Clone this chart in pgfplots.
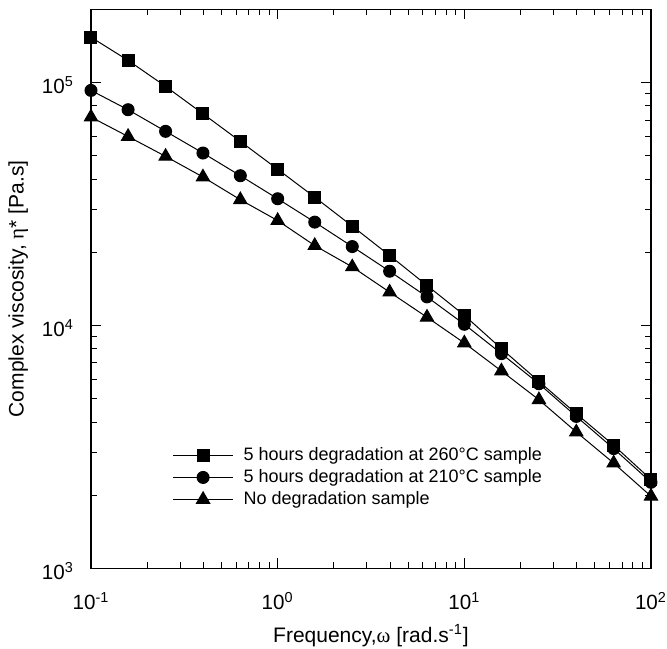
\documentclass[border=0pt]{standalone}
\usepackage{fontspec}
\setmainfont{Liberation Sans}
\newfontfamily\serif{Liberation Serif}
\usepackage{pgfplots}
\pgfplotsset{compat=1.18}
\usetikzlibrary{calc}

\pgfplotstableread{
x y
0.1 1.535e5
0.158 1.232e5
0.251 9.63e4
0.398 7.43e4
0.631 5.72e4
1 4.39e4
1.58 3.37e4
2.51 2.56e4
3.98 1.94e4
6.31 1.46e4
10 1.10e4
15.8 8.02e3
25.1 5.88e3
39.8 4.33e3
63.1 3.21e3
100 2.32e3
}\sqdata
\pgfplotstableread{
x y
0.1 9.27e4
0.158 7.72e4
0.251 6.29e4
0.398 5.12e4
0.631 4.13e4
1 3.32e4
1.58 2.66e4
2.51 2.11e4
3.98 1.67e4
6.31 1.31e4
10 1.01e4
15.8 7.65e3
25.1 5.75e3
39.8 4.22e3
63.1 3.11e3
100 2.26e3
}\cidata
\pgfplotstableread{
x y
0.1 7.2e4
0.158 5.99e4
0.251 4.96e4
0.398 4.08e4
0.631 3.29e4
1 2.70e4
1.58 2.13e4
2.51 1.74e4
3.98 1.37e4
6.31 1.08e4
10 8.46e3
15.8 6.49e3
25.1 4.94e3
39.8 3.64e3
63.1 2.71e3
100 1.98e3
}\trdata

\begin{document}
\begin{tikzpicture}
\begin{axis}[
  scale only axis, width=280pt, height=279.5pt,
  xmode=log, ymode=log,
  xmin=0.1, xmax=100, ymin=1000, ymax=2e5,
  xtick={0.1,1,10,100},
  xticklabels={10\textsuperscript{-1},10\textsuperscript{0},10\textsuperscript{1},10\textsuperscript{2}},
  ytick={1000,10000,100000},
  yticklabels={10\textsuperscript{3},10\textsuperscript{4},10\textsuperscript{5}},
  tick align=inside,
  major tick length=5pt, minor tick length=3pt,
  axis line style={line width=0.7pt},
  every tick/.append style={black, line width=0.5pt},
  tick label style={font=\fontsize{10.3}{12}\selectfont},
  xticklabel style={yshift=-8.5pt},
  yticklabel style={xshift=-5pt, yshift=-1.5pt},
  label style={font=\fontsize{10.5}{12}\selectfont},
  xlabel={Frequency,{\serif ω} [rad.s\textsuperscript{-1}]},
  ylabel={Complex viscosity, {\serif η}* [Pa.s]},
  x label style={at={(axis description cs:0.5,-0.12)}, anchor=center},
  y label style={at={(axis description cs:-0.13,0.5)}, anchor=center, rotate=0},
  legend style={draw=none, fill=none, font=\fontsize{9}{11}\selectfont,
    at={(axis description cs:0.145,0.1625)}, anchor=west, inner sep=0pt,
    nodes={inner sep=0pt, text height=7pt, text depth=2pt},
    row sep=2pt, column sep=5pt},
  legend cell align=left,
  legend image code/.code={\draw[mark repeat=2,mark phase=2] plot coordinates {(0pt,0pt) (15pt,0pt) (30pt,0pt)};},
]
\addplot[black, line width=0.5pt, mark=square*, mark size=3pt, mark options={solid, fill=black}] table {\sqdata};
\addlegendentry{5 hours degradation at 260°C sample}
\addplot[black, line width=0.5pt, mark=*, mark size=3pt, mark options={solid, fill=black}] table {\cidata};
\addlegendentry{5 hours degradation at 210°C sample}
\addplot[black, line width=0.5pt, mark=triangle*, mark size=3.8pt, mark options={solid, fill=black}] table {\trdata};
\addlegendentry{No degradation sample}
\end{axis}
\pgfresetboundingbox
\path[use as bounding box] ($(current axis.south west)+(-45.5pt,-40pt)$) rectangle ($(current axis.north east)+(8pt,4.65pt)$);
\end{tikzpicture}
\end{document}
